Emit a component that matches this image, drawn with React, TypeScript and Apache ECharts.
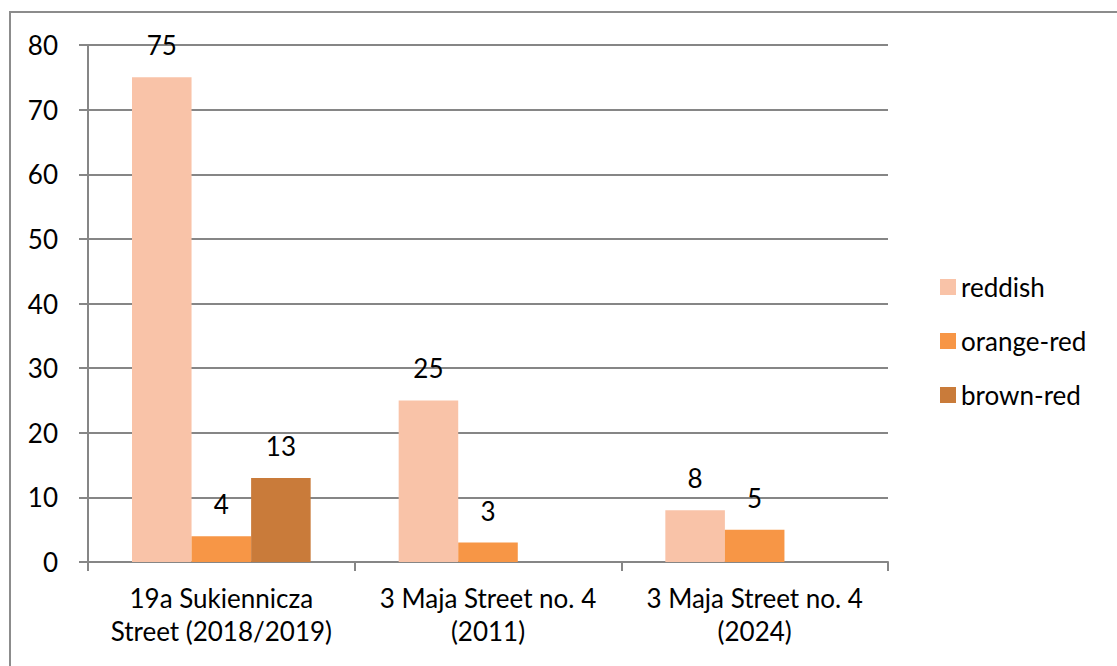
import React, { useEffect, useRef } from "react";
import * as echarts from "echarts";

const categories = [
  "19a Sukiennicza\nStreet (2018/2019)",
  "3 Maja Street no. 4\n(2011)",
  "3 Maja Street no. 4\n(2024)",
];
const seriesNames = ["reddish", "orange-red", "brown-red"];
const reddish = [75, 25, 8];
const orangeRed = [4, 3, 5];
const brownRed: (number | null)[] = [13, null, null];
const colors = ["#F9C3A8", "#F79646", "#C97B3A"];
const yTicks = { min: 0, max: 80, interval: 10 };

const FONT = "Lato";
const FS = 26;

export default function App() {
  const ref = useRef<HTMLDivElement>(null);
  useEffect(() => {
    const chart = echarts.init(ref.current!, null, { renderer: "svg" });
    const values = [reddish, orangeRed, brownRed];
    chart.setOption({
      animation: false,
      textStyle: { fontFamily: FONT, color: "#000" },
      graphic: [
        {
          type: "rect",
          shape: { x: 10, y: 12, width: 1300, height: 900 },
          style: { fill: "none", stroke: "#8c8c8c", lineWidth: 2 },
          silent: true,
        },
      ],
      legend: {
        orient: "vertical",
        left: 935,
        top: 269,
        itemWidth: 16,
        itemHeight: 16,
        itemGap: 28,
        icon: "rect",
        textStyle: { fontFamily: FONT, fontSize: FS, color: "#000" },
        data: seriesNames,
      },
      grid: { left: 88, right: 229, top: 45, bottom: 104, containLabel: false },
      xAxis: {
        type: "category",
        data: categories,
        axisLine: { lineStyle: { color: "#868686", width: 2 } },
        axisTick: { show: true, length: 9, lineStyle: { color: "#868686", width: 2 } },
        axisLabel: {
          interval: 0,
          margin: 19,
          fontSize: FS,
          lineHeight: 33,
          color: "#000",
          fontFamily: FONT,
        },
      },
      yAxis: {
        type: "value",
        min: yTicks.min,
        max: yTicks.max,
        interval: yTicks.interval,
        axisLine: { show: true, lineStyle: { color: "#868686", width: 2 } },
        axisTick: { show: true, length: 9, lineStyle: { color: "#868686", width: 2 } },
        splitLine: { lineStyle: { color: "#868686", width: 2 } },
        axisLabel: { margin: 30, fontSize: FS, color: "#000", fontFamily: FONT },
      },
      series: seriesNames.map((name, i) => ({
        name,
        type: "bar",
        data: values[i],
        barGap: "0%",
        barCategoryGap: "33%",
        itemStyle: { color: colors[i] },
        label: {
          show: true,
          position: "top",
          distance: 19,
          fontSize: FS,
          color: "#000",
          fontFamily: FONT,
        },
      })),
    });
    return () => chart.dispose();
  }, []);
  return (
    <div
      ref={ref}
      style={{ position: "absolute", left: 0, top: 0, width: 1117, height: 666, background: "#fff" }}
    />
  );
}
